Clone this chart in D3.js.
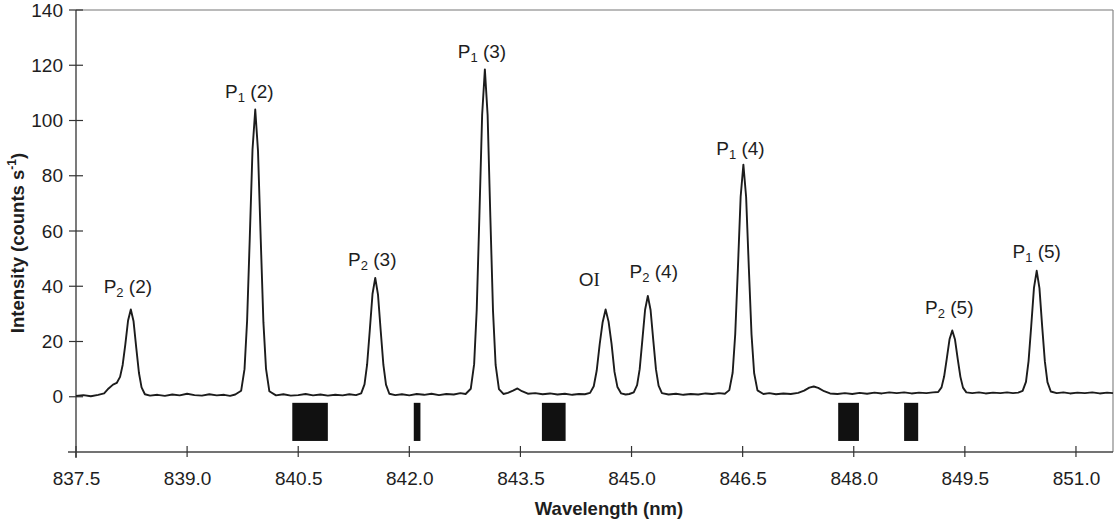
<!DOCTYPE html>
<html><head><meta charset="utf-8">
<script src="https://cdn.jsdelivr.net/npm/d3@7"></script>
<style>body{margin:0;background:#fff}svg{display:block}</style>
</head><body><svg id="c" width="1120" height="520"></svg>
<script>
// Spectrum: [wavelength (nm), intensity (counts/s)]
const spectrum = [
[837.50,0.3],[837.60,0.6],[837.70,0.2],[837.80,0.7],[837.88,1.2],[837.94,3.0],[838.00,4.4],
[838.05,5.0],[838.095,7.2],[838.13,11.5],[838.166,19.0],[838.203,27.6],[838.24,31.6],[838.277,27.3],[838.314,17.6],[838.35,8.6],[838.385,3.4],[838.43,0.9],
[838.50,0.4],[838.60,0.7],[838.70,0.3],[838.80,0.8],[838.90,0.5],[839.00,1.1],[839.10,0.6],[839.20,0.4],[839.30,0.9],[839.40,0.5],[839.50,0.7],[839.58,0.3],[839.65,0.8],
[839.73,2.2],[839.775,10.0],[839.81,27.5],[839.846,57.5],[839.883,89.5],[839.92,104.0],[839.957,89.0],[839.994,57.0],[840.03,27.0],[840.065,10.2],[840.11,2.0],
[840.20,0.5],[840.30,0.9],[840.40,0.4],[840.50,0.6],[840.60,1.0],[840.70,0.5],[840.80,0.8],[840.90,0.4],[841.00,0.7],[841.10,0.5],[841.19,0.9],[841.28,0.6],
[841.35,1.2],[841.395,4.5],[841.43,11.6],[841.466,24.0],[841.503,37.2],[841.54,43.0],[841.577,37.0],[841.614,23.8],[841.65,11.5],[841.685,4.4],[841.73,1.1],
[841.81,0.6],[841.90,0.9],[842.00,0.5],[842.10,1.0],[842.20,0.7],[842.30,1.1],[842.40,0.6],[842.50,1.0],[842.60,0.8],[842.69,1.3],[842.76,1.0],
[842.83,2.9],[842.875,11.8],[842.91,31.5],[842.946,65.5],[842.983,102.0],[843.02,118.5],[843.057,102.0],[843.094,65.0],[843.13,31.0],[843.165,11.5],[843.21,2.8],
[843.27,1.0],[843.33,1.4],[843.40,2.2],[843.46,3.0],[843.52,2.0],[843.60,1.1],[843.70,1.3],[843.80,0.9],[843.90,1.2],[844.00,0.8],[844.10,1.1],[844.20,0.7],[844.29,1.0],[844.37,0.9],
[844.44,1.4],[844.49,3.8],[844.53,9.5],[844.57,19.0],[844.61,27.0],[844.65,31.6],[844.69,27.2],[844.73,19.2],[844.77,9.0],[844.81,3.5],[844.86,1.2],
[844.92,0.8],[844.97,1.0],
[845.03,1.6],[845.075,4.2],[845.11,10.0],[845.146,20.5],[845.183,31.5],[845.22,36.5],[845.257,31.4],[845.294,20.3],[845.33,9.9],[845.365,4.0],[845.41,1.3],
[845.50,0.8],[845.60,1.1],[845.70,0.7],[845.80,1.0],[845.90,0.8],[846.00,1.2],[846.09,1.0],[846.18,1.3],[846.26,1.1],
[846.32,2.4],[846.365,8.7],[846.40,22.7],[846.436,46.5],[846.473,72.4],[846.51,84.0],[846.547,72.3],[846.584,46.4],[846.62,22.5],[846.655,8.6],[846.70,2.3],
[846.78,1.0],[846.86,1.3],[846.95,0.9],[847.05,1.2],[847.15,1.0],[847.25,1.4],[847.33,2.2],[847.40,3.3],[847.46,3.7],[847.52,3.2],[847.60,2.0],[847.68,1.2],
[847.78,1.0],[847.88,1.3],[847.98,1.0],[848.08,1.4],[848.18,1.1],[848.28,1.5],[848.38,1.2],[848.48,1.6],[848.58,1.3],[848.68,1.6],[848.78,1.2],[848.88,1.5],[848.98,1.3],[849.07,1.6],
[849.14,1.7],[849.185,3.4],[849.22,7.3],[849.256,13.8],[849.293,20.8],[849.33,24.0],[849.367,20.7],[849.404,13.6],[849.44,7.2],[849.475,3.3],[849.52,1.6],
[849.60,1.3],[849.69,1.6],[849.78,1.2],[849.88,1.5],[849.98,1.3],[850.07,1.6],[850.15,1.3],[850.22,1.5],
[850.28,2.1],[850.325,5.4],[850.36,12.9],[850.396,25.6],[850.433,39.4],[850.47,45.6],[850.507,39.3],[850.544,25.4],[850.58,12.8],[850.615,5.3],[850.66,1.9],
[850.74,1.3],[850.83,1.6],[850.92,1.2],[851.02,1.5],[851.12,1.3],[851.22,1.6],[851.32,1.2],[851.42,1.5],[851.50,1.3]
];

// Black band markers below the baseline: [start, end] in nm
const bands = [[840.42,840.90],[842.06,842.15],[843.79,844.11],[847.79,848.07],[848.68,848.87]];
const bandLevels = [-2.2, -16];   // intensity range of the markers

const xTicks = [837.5, 839.0, 840.5, 842.0, 843.5, 845.0, 846.5, 848.0, 849.5, 851.0];
const xTickLabels = ["837.5","839.0","840.5","842.0","843.5","845.0","846.5","848.0","849.5","851.0"];
const yTicks = [0, 20, 40, 60, 80, 100, 120, 140];
const yTickLabels = ["0","20","40","60","80","100","120","140"];
const xDomain = [837.5, 851.5];
const yDomain = [-20, 140];

// Peak labels: main letter, subscript, rest, anchor wavelength, anchor intensity
const labelMain = ["P","P","P","P","O","P","P","P","P"];
const labelSub  = ["2","1","2","1","", "2","1","2","1"];
const labelRest = [" (2)"," (2)"," (3)"," (3)","I"," (4)"," (4)"," (5)"," (5)"];
const labelWl   = [838.20, 839.84, 841.50, 842.98, 844.43, 845.30, 846.47, 849.29, 850.47];
const labelInt  = [37.5, 108.0, 47.4, 122.5, 40.0, 42.9, 87.6, 29.8, 50.4];

const xTitle = "Wavelength (nm)";

const svg = d3.select("#c");
const x = d3.scaleLinear().domain(xDomain).range([76, 1113]);
const y = d3.scaleLinear().domain(yDomain).range([452, 10]);
const ink = "#1e1e1e";
const font = "'Liberation Sans', Arial, Helvetica, sans-serif";

// frame (top/right lighter)
svg.append("line").attr("x1", x(xDomain[0])).attr("x2", x(xDomain[1])).attr("y1", y(yDomain[1])).attr("y2", y(yDomain[1]))
  .attr("stroke", "#777").attr("stroke-width", 1.2);
svg.append("line").attr("x1", x(xDomain[1])).attr("x2", x(xDomain[1])).attr("y1", y(yDomain[1])).attr("y2", y(yDomain[0]))
  .attr("stroke", "#888").attr("stroke-width", 1.2);

// y axis
const yAxis = d3.axisLeft(y).tickValues(yTicks).tickFormat((d,i)=>yTickLabels[i]).tickSize(0).tickPadding(13);
const gy = svg.append("g").attr("transform", `translate(${x(xDomain[0])},0)`).call(yAxis);
gy.select(".domain").remove();
gy.selectAll("text").attr("font-family", font).attr("font-size", 19).attr("fill", ink);
svg.append("line").attr("x1", x(xDomain[0])).attr("x2", x(xDomain[0])).attr("y1", y(yDomain[1])).attr("y2", y(yDomain[0]) + 6)
  .attr("stroke", "#333").attr("stroke-width", 1.3);
svg.selectAll(".ytk").data(yTicks).join("line").attr("class","ytk")
  .attr("x1", x(xDomain[0]) - 7).attr("x2", x(xDomain[0]) + 7)
  .attr("y1", d => y(d)).attr("y2", d => y(d)).attr("stroke", "#333").attr("stroke-width", 1.2);

// x axis
const xAxis = d3.axisBottom(x).tickValues(xTicks).tickFormat((d,i)=>xTickLabels[i]).tickSize(0).tickPadding(20);
const gx = svg.append("g").attr("transform", `translate(0,${y(yDomain[0])})`).call(xAxis);
gx.select(".domain").remove();
gx.selectAll("text").attr("font-family", font).attr("font-size", 19).attr("fill", ink);
svg.append("line").attr("x1", x(xDomain[0]) - 8).attr("x2", x(xDomain[1])).attr("y1", y(yDomain[0])).attr("y2", y(yDomain[0]))
  .attr("stroke", "#444").attr("stroke-width", 1.3);
svg.selectAll(".xtk").data(xTicks).join("line").attr("class","xtk")
  .attr("x1", d => x(d)).attr("x2", d => x(d))
  .attr("y1", y(yDomain[0]) - 6).attr("y2", y(yDomain[0]) + 5).attr("stroke", "#333").attr("stroke-width", 1.2);

// titles
svg.append("text").attr("x", 609).attr("y", 515).attr("text-anchor", "middle")
  .attr("font-family", font).attr("font-weight", "bold").attr("font-size", 18.5).attr("fill", ink).text(xTitle);
const yt = svg.append("text").attr("transform", "translate(24,243) rotate(-90)").attr("text-anchor", "middle")
  .attr("font-family", font).attr("font-weight", "bold").attr("font-size", 18.5).attr("fill", ink);
yt.append("tspan").text("Intensity (counts s");
yt.append("tspan").attr("dy", -8).attr("font-size", 12).text("-1");
yt.append("tspan").attr("dy", 8).text(")");

// band markers
svg.selectAll(".band").data(bands).join("rect").attr("class","band")
  .attr("x", d => x(d[0])).attr("width", d => x(d[1]) - x(d[0]))
  .attr("y", y(bandLevels[0])).attr("height", y(bandLevels[1]) - y(bandLevels[0]))
  .attr("fill", "#111");

// spectrum line
const line = d3.line().x(d => x(d[0])).y(d => y(d[1])).curve(d3.curveLinear);
svg.append("path").datum(spectrum).attr("d", line).attr("fill", "none")
  .attr("stroke", "#1c1c1c").attr("stroke-width", 1.9).attr("stroke-linejoin", "round");

// peak labels
labelMain.forEach((m, i) => {
  const t = svg.append("text").attr("x", x(labelWl[i])).attr("y", y(labelInt[i])).attr("text-anchor", "middle")
    .attr("font-family", font).attr("font-size", 19).attr("fill", ink);
  t.append("tspan").text(m);
  if (labelSub[i]) {
    t.append("tspan").attr("dy", 4).attr("font-size", 13).text(labelSub[i]);
    t.append("tspan").attr("dy", -4).text(labelRest[i]);
  } else {
    t.append("tspan").attr("font-family", "'Liberation Serif', 'Times New Roman', serif").text(labelRest[i]);
  }
});
</script>
</body></html>
